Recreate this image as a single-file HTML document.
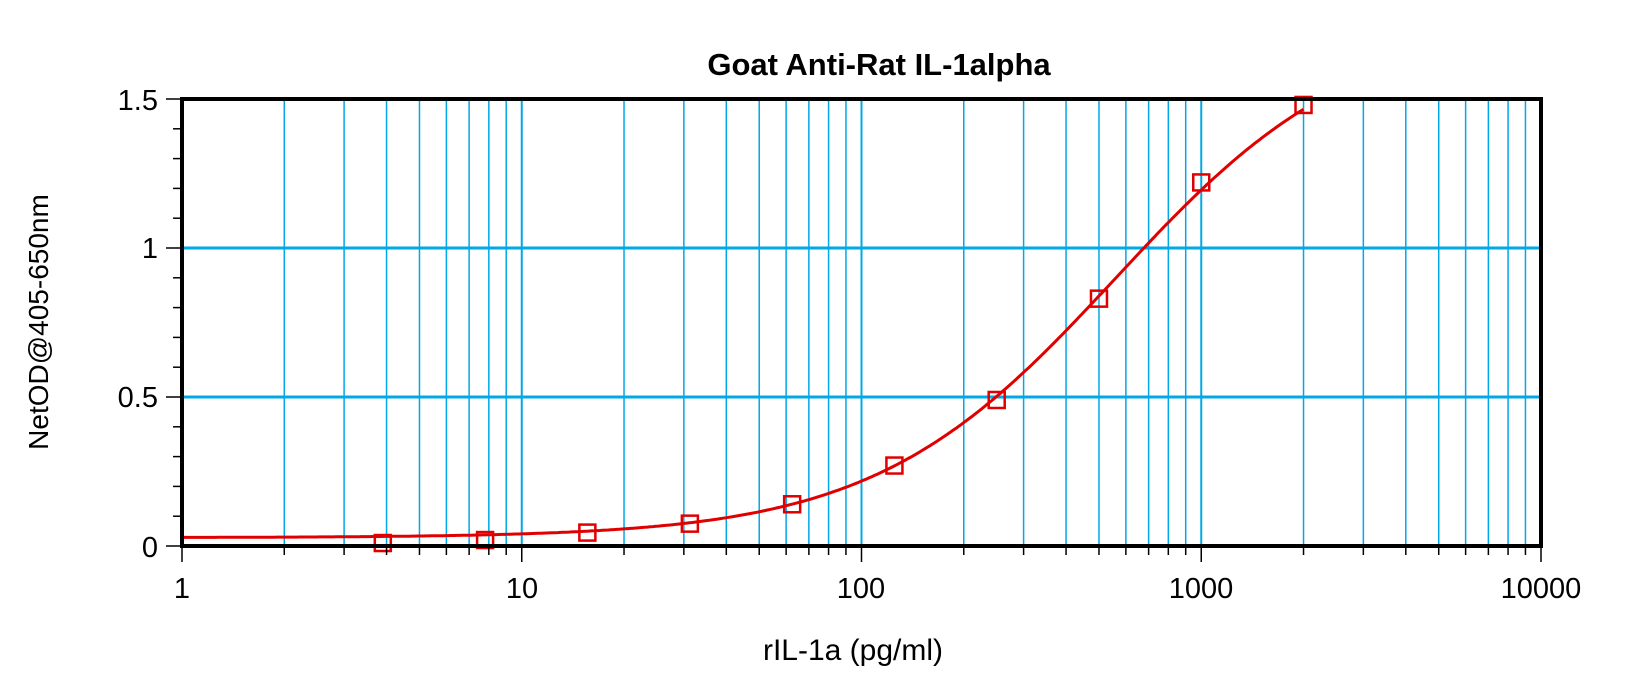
<!DOCTYPE html>
<html><head><meta charset="utf-8"><style>
body{margin:0;background:#fff}
svg{display:block}
text{font-family:"Liberation Sans",sans-serif;fill:#000}
</style></head><body>
<svg id="s" width="1629" height="691" xmlns="http://www.w3.org/2000/svg">
<rect width="1629" height="691" fill="#fff"/>
<g id="grid"></g>
<path id="curve" fill="none" stroke="#e00000" stroke-width="3"/>
<g id="marks" fill="none" stroke="#e00000" stroke-width="2.5"></g>
<rect x="182" y="99" width="1359" height="447" fill="none" stroke="#000" stroke-width="4"/>
<g id="ticks" stroke="#000" stroke-width="1.5"></g>
<text x="879" y="75" font-size="31" font-weight="bold" text-anchor="middle">Goat Anti-Rat IL-1alpha</text>
<g font-size="29" text-anchor="end">
<text x="158" y="110">1.5</text>
<text x="158" y="258">1</text>
<text x="158" y="407">0.5</text>
<text x="158" y="557">0</text>
</g>
<g font-size="29" text-anchor="middle">
<text x="182" y="598">1</text><text x="522" y="598">10</text><text x="861" y="598">100</text><text x="1201" y="598">1000</text><text x="1541" y="598">10000</text>
</g>
<text x="853" y="660" font-size="30" text-anchor="middle">rIL-1a (pg/ml)</text>
<text transform="translate(48,322) rotate(-90)" font-size="28" text-anchor="middle">NetOD@405-650nm</text>
</svg>
<script>
var L=182,R=1541,T=99,B=546;
function X(v){return L+Math.log10(v)*339.75}
function Y(v){return B-v*298}
var g='',t='';
for(var d=0;d<4;d++)for(var k=1;k<10;k++){var v=k*Math.pow(10,d);if(v==1)continue;var x=X(v);
g+='<line x1="'+x+'" y1="'+T+'" x2="'+x+'" y2="'+B+'" stroke="#00a8e8" stroke-width="'+(k==1?2:1.5)+'"/>';
t+='<line x1="'+x+'" y1="'+B+'" x2="'+x+'" y2="'+(B+(k==1?16:9))+'"/>';}
t+='<line x1="'+L+'" y1="'+B+'" x2="'+L+'" y2="'+(B+16)+'"/><line x1="'+R+'" y1="'+B+'" x2="'+R+'" y2="'+(B+16)+'"/>';
[0.5,1].forEach(function(v){g+='<line x1="'+L+'" y1="'+Y(v)+'" x2="'+R+'" y2="'+Y(v)+'" stroke="#00a8e8" stroke-width="3"/>';});
for(var i=0;i<=15;i++){var y=Y(i/10);t+='<line x1="'+(L-(i%5==0?16:9))+'" y1="'+y+'" x2="'+L+'" y2="'+y+'"/>';}
document.getElementById('grid').innerHTML=g;document.getElementById('ticks').innerHTML=t;
function f(x){return 1.77-(1.77-0.028)/(1+Math.pow(x/560,1.22))}
var p='';for(var i=0;i<=400;i++){var lx=Math.log10(2000)*i/400,x=Math.pow(10,lx);p+=(i?'L':'M')+X(x).toFixed(1)+' '+Y(f(x)).toFixed(1);}
document.getElementById('curve').setAttribute('d',p);
var pts=[[3.9,0.01],[7.8,0.02],[15.6,0.045],[31.25,0.075],[62.5,0.14],[125,0.27],[250,0.49],[500,0.83],[1000,1.22],[2000,1.48]],m='';
pts.forEach(function(q){m+='<rect x="'+(X(q[0])-8)+'" y="'+(Y(q[1])-8)+'" width="16" height="16"/>';});
document.getElementById('marks').innerHTML=m;
</script>
</body></html>
